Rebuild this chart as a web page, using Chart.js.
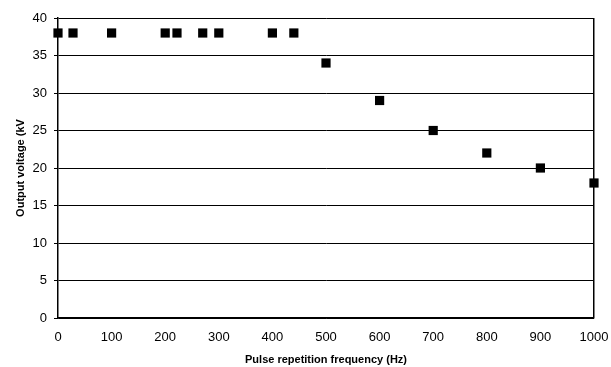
<!DOCTYPE html>
<html>
<head>
<meta charset="utf-8">
<script src="https://cdn.jsdelivr.net/npm/chart.js@4.4.0/dist/chart.umd.min.js"></script>
<style>
  html, body { margin: 0; padding: 0; background: #fff; }
  #wrap { width: 611px; height: 367px; }
</style>
</head>
<body>
<div id="wrap"><canvas id="chart"></canvas></div>
<script>
"use strict";

// pulse repetition frequency (Hz) vs output voltage (kV)
const freqHz = [0, 28, 100, 200, 222, 270, 300, 400, 440, 500, 600, 700, 800, 900, 1000];
const voltageKv = [38, 38, 38, 38, 38, 38, 38, 38, 38, 34, 29, 25, 22, 20, 18];
const xTicks = [0, 100, 200, 300, 400, 500, 600, 700, 800, 900, 1000];
const yTicks = [0, 5, 10, 15, 20, 25, 30, 35, 40];

const points = freqHz.map((f, i) => ({ x: f, y: voltageKv[i] }));

Chart.defaults.font.family = "'Liberation Sans', Arial, sans-serif";
Chart.defaults.color = "#000";

const ctx = document.getElementById("chart").getContext("2d");
new Chart(ctx, {
    type: "scatter",
    data: {
        datasets: [
            {
                data: points,
                pointStyle: "rect",
                pointRadius: 6.5,
                pointHoverRadius: 6.5,
                borderWidth: 0,
                backgroundColor: "#000",
                clip: false,
            },
        ],
    },
    options: {
        responsive: true,
        maintainAspectRatio: false,
        animation: false,
        layout: { padding: { top: 18, right: 17, left: 0, bottom: 0 } },
        plugins: { legend: { display: false }, tooltip: { enabled: false } },
        scales: {
            x: {
                type: "linear",
                min: 0,
                max: 1000,
                afterBuildTicks: (scale) => {
                    scale.ticks = xTicks.map((v) => ({ value: v }));
                },
                afterFit: (scale) => {
                    scale.height = 49;
                    scale.paddingRight = 0;
                    scale.paddingLeft = 0;
                },
                grid: {
                    color: (c) => (c.tick && c.tick.value === 1000 ? "#000" : "rgba(0,0,0,0)"),
                    drawTicks: false,
                    lineWidth: 1.5,
                },
                border: { color: "#000", width: 1.5 },
                ticks: {
                    font: { size: 13 },
                    padding: 12,
                    maxRotation: 0,
                    callback: (v) => String(v),
                },
                title: {
                    display: true,
                    text: "Pulse repetition frequency (Hz)",
                    font: { size: 11, weight: "bold" },
                    padding: { top: 2, bottom: 0 },
                },
            },
            y: {
                type: "linear",
                min: 0,
                max: 40,
                afterBuildTicks: (scale) => {
                    scale.ticks = yTicks.map((v) => ({ value: v }));
                },
                afterFit: (scale) => {
                    scale.width = 58;
                },
                grid: { color: "#000", lineWidth: 1, tickLength: 4 },
                border: { color: "#000", width: 1.5 },
                ticks: { font: { size: 13 }, padding: 7 },
                title: {
                    display: true,
                    text: "Output voltage (kV",
                    font: { size: 11, weight: "bold" },
                    padding: { top: 14, bottom: 0 },
                },
            },
        },
    },
});
</script>
</body>
</html>
